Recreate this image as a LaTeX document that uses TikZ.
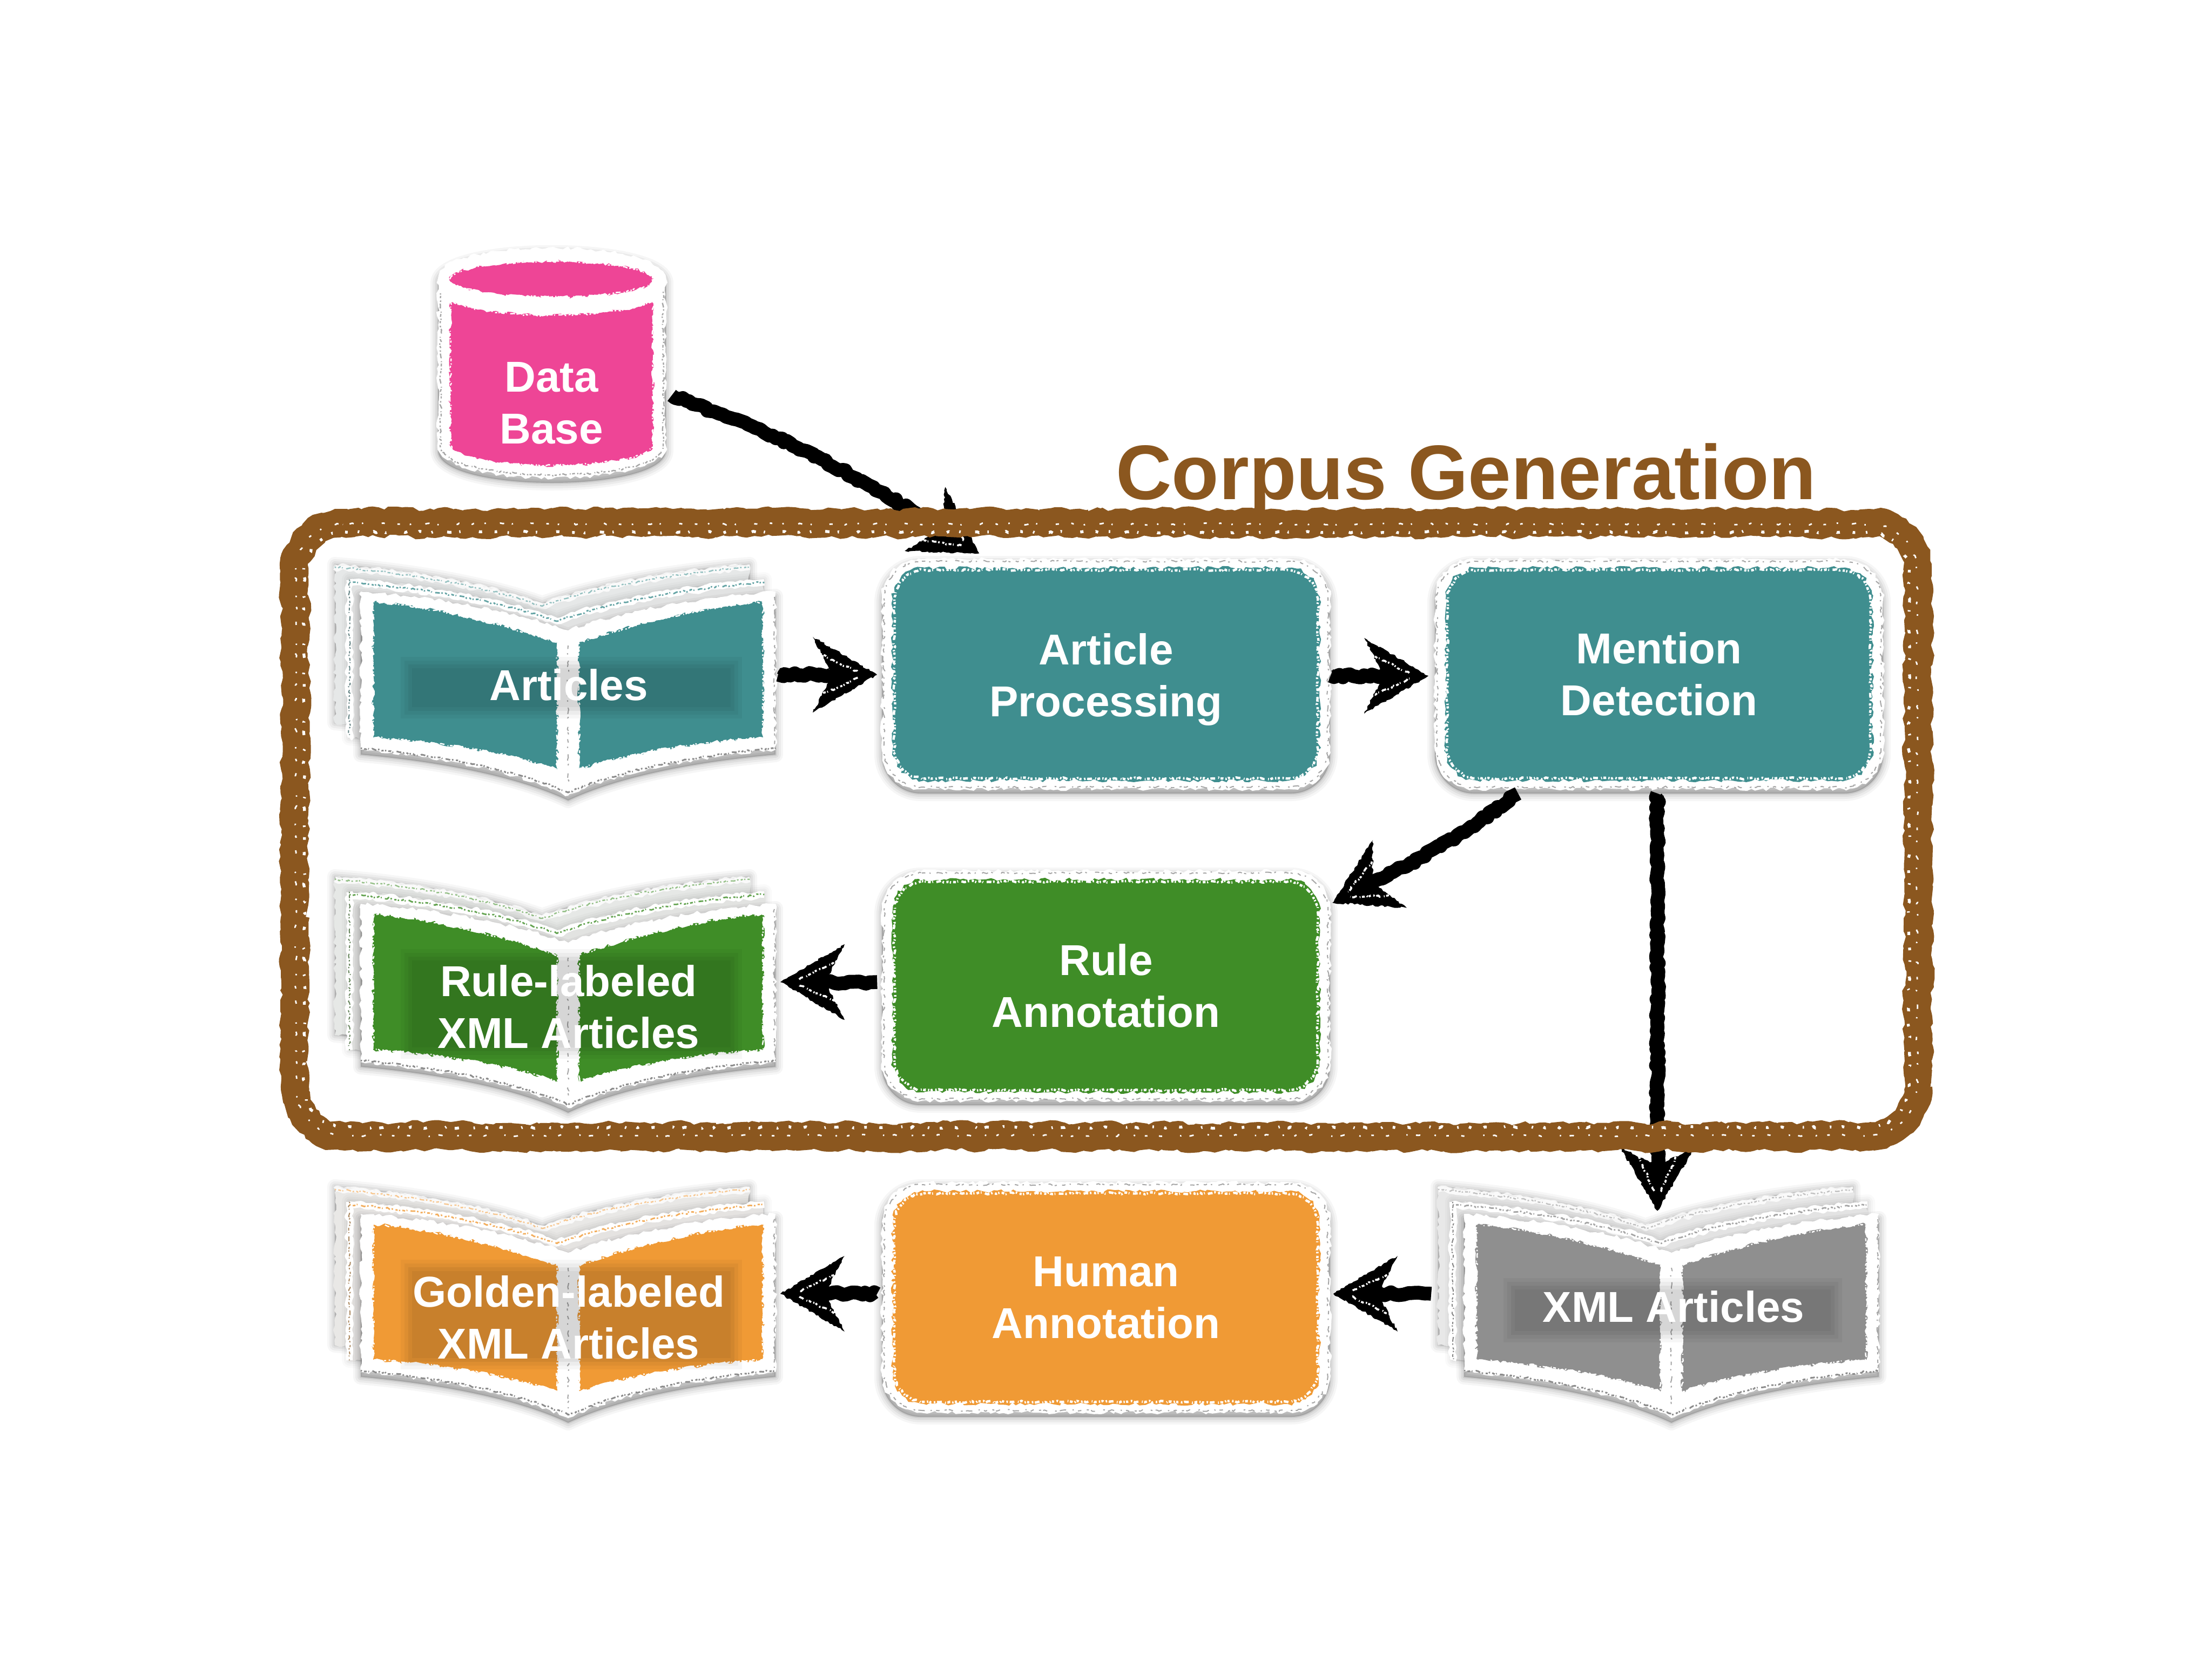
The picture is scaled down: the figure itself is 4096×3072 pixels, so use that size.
\documentclass[tikz,border=0pt]{standalone}
\usepackage{fontspec}
\setmainfont{Liberation Sans}
\usetikzlibrary{decorations.pathmorphing,decorations.markings}
\definecolor{cteal}{HTML}{3F8E8F}
\definecolor{cgreen}{HTML}{3F8D27}
\definecolor{corange}{HTML}{F09A35}
\definecolor{cpink}{HTML}{EE4596}
\definecolor{cgrey}{HTML}{8F8F8F}
\definecolor{cbrown}{HTML}{8B571F}
\tikzset{
  chalk/.style={line join=round,decorate,decoration={random steps,segment length=1.8pt,amplitude=.8pt}},
  chalkrough/.style={line join=bevel,decorate,decoration={random steps,segment length=2.4pt,amplitude=1.2pt}},
  chalkfine/.style={line join=round,decorate,decoration={random steps,segment length=1.1pt,amplitude=.45pt}},
  fleck/.style={line width=.9pt,chalkfine,dash pattern=on 1.6pt off 2pt on .6pt off 3pt on 3pt off 1.5pt on .8pt off 4pt on 2pt off 1pt on 1pt off 2.5pt},
  speck/.style={line width=.9pt,chalkfine,dash pattern=on .6pt off 1pt on 1.3pt off .7pt on .4pt off 1.6pt on 2.2pt off .8pt on .7pt off 1.2pt on 1pt off .6pt},
  sparse/.style={chalkfine,dash pattern=on 1.2pt off 5pt on .7pt off 7pt on 2pt off 4pt on .6pt off 9pt on 1.5pt off 6pt},
  label/.style={text=white,align=center,inner sep=0pt,font=\fontsize{20}{24}\selectfont\bfseries},
  boxnode/.style={label,minimum width=194.5pt,minimum height=96pt},
  booknode/.style={label,minimum width=191pt,minimum height=95pt},
  conn/.style={
    preaction={draw=black,line width=6.4pt,line cap=butt,chalk},
    postaction={decorate,decoration={markings,mark=at position .999 with {
      \fill[black,chalkfine] (85,0) -- (-34,70) -- (-5,14) -- (-5,-14) -- (-34,-70) -- cycle;
      \draw[white,line width=.35pt,speck] (-20,38) -- (50,5);
      \draw[white,line width=.35pt,speck] (-20,-38) -- (50,-5);
    }}}},
}
% rounded rectangle as a plain path, so that the decoration leaves the corners alone
\newcommand\rr[5]{(#1+#5,#2) -- (#3-#5,#2) .. controls (#3-.45*#5,#2) and (#3,#2+.45*#5) .. (#3,#2+#5) -- (#3,#4-#5) .. controls (#3,#4-.45*#5) and (#3-.45*#5,#4) .. (#3-#5,#4) -- (#1+#5,#4) .. controls (#1+.45*#5,#4) and (#1,#4-.45*#5) .. (#1,#4-#5) -- (#1,#2+#5) .. controls (#1,#2+.45*#5) and (#1+.45*#5,#2) .. (#1+#5,#2) -- cycle}
\newcommand\softsh[3]{% offset, extra options, path
  \foreach \w/\op in {7/.04,5/.05,3/.06,1.2/.08}{
    \path[shift={(0,#1)},draw=black,line join=round,opacity=\op,line width=\w pt,#2] #3;
  }}
\def\booksil{(668,1100) .. controls (800,1110) and (950,1135) .. (1052,1172) .. controls (1154,1135) and (1304,1110) .. (1436,1100) -- (1436,1393) .. controls (1304,1405) and (1154,1430) .. (1052,1478) .. controls (950,1430) and (800,1405) .. (668,1393) -- cycle}
\def\booktop{(668,1105) .. controls (800,1115) and (950,1140) .. (1052,1177) .. controls (1154,1140) and (1304,1115) .. (1436,1105)}
\def\bookbot{(668,1390) .. controls (800,1402) and (950,1427) .. (1052,1472) .. controls (1154,1427) and (1304,1402) .. (1436,1390)}
\def\pageL{(691,1119) .. controls (800,1128) and (930,1160) .. (1032,1195) -- (1032,1429) .. controls (930,1395) and (800,1378) .. (691,1370) -- cycle}
\def\pageR{(1413,1119) .. controls (1304,1128) and (1174,1160) .. (1072,1195) -- (1072,1429) .. controls (1174,1395) and (1304,1378) .. (1413,1370) -- cycle}
\newcommand\chalkbook[3]{% dx, dy, colour
  \begin{scope}[shift={(#1,#2)}]
    \begin{scope}[shift={(-48,-50)}]
      \softsh{0}{opacity=\op*.8,fill=black}{\booksil}
      \fill[#3!14!black!10!white,chalk] \booksil;
      \draw[white,line width=2.6pt,chalk,opacity=.8] \booktop;
      \draw[#3!55!white,speck,line width=.6pt] \booktop;
    \end{scope}
    \begin{scope}[shift={(-21,-22)}]
      \softsh{0}{opacity=\op*.5,fill=black}{\booksil}
      \fill[#3!16!black!12!white,chalk] \booksil;
      \draw[white,line width=3pt,chalk] \booktop;
      \draw[white,line width=3pt,chalk] (668,1100) -- (668,1393);
      \draw[#3!80!white,speck,line width=.7pt] \booktop;
      \draw[#3!40!gray,speck,line width=.5pt] (668,1100) -- (668,1393);
    \end{scope}
    \softsh{9}{opacity=\op*.9,fill=black}{\booksil}
    \fill[white,chalk] \booksil;
    \draw[black!45,speck,line width=.75pt] \bookbot;
    \draw[black!35,fleck,line width=.5pt] (1434,1110) -- (1434,1385);
    \draw[black!35,fleck,line width=.5pt] (1052,1200) -- (1052,1460);
    \fill[#3,chalk] \pageL;
    \fill[#3,chalk] \pageR;
    \draw[white,speck,line width=.6pt] \pageL;
    \draw[white,speck,line width=.6pt] \pageR;
  \end{scope}}
\newcommand\chalkbox[3]{% cx, cy, colour
  \begin{scope}[shift={(#1,#2)}]
    \softsh{8}{opacity=\op*.9,fill=black}{\rr{-415}{-213}{415}{213}{72}}
    \fill[white,chalk] \rr{-415}{-213}{415}{213}{72};
    \draw[black!35,fleck,line width=.5pt] \rr{-411}{-209}{411}{209}{70};
    \fill[#3,chalk] \rr{-395}{-197}{395}{197}{58};
    \draw[white,speck,line width=1.1pt] \rr{-392}{-193}{392}{193}{56};
  \end{scope}}
\newcommand\darkband[4]{% x1,y1,x2,y2
  \fill[black,opacity=.035] (#1-14,#2-14) rectangle (#3+14,#4+14);
  \fill[black,opacity=.04] (#1-7,#2-7) rectangle (#3+7,#4+7);
  \fill[black,opacity=.05] (#1,#2) rectangle (#3,#4);
  \fill[black,opacity=.04] (#1+7,#2+7) rectangle (#3-7,#4-7);}
\begin{document}
\begin{tikzpicture}[x=.25pt,y=-.25pt]
\pgfmathsetseed{42}
\useasboundingbox (0,0) rectangle (4096,3072);
\fill[white] (0,0) rectangle (4096,3072);

% database cylinder
\softsh{9}{opacity=\op*.9,fill=black}{(811,515) .. controls (811,440) and (1233,440) .. (1233,515) -- (1233,825) .. controls (1233,905) and (811,905) .. (811,825) -- cycle}
\fill[white,chalk] (811,515) .. controls (811,440) and (1233,440) .. (1233,515) -- (1233,825) .. controls (1233,905) and (811,905) .. (811,825) -- cycle;
\draw[black!35,speck,line width=.6pt] (1228,540) -- (1228,825) .. controls (1228,897) and (816,897) .. (816,825) -- (816,540);
\fill[cpink,chalk] (834,559) .. controls (930,592) and (1113,592) .. (1209,559) -- (1209,821) .. controls (1209,875) and (834,875) .. (834,821) -- cycle;
\draw[white,speck,line width=.6pt] (834,559) .. controls (930,592) and (1113,592) .. (1209,559) -- (1209,821) .. controls (1209,875) and (834,875) .. (834,821) -- cycle;
\fill[cpink,chalk] (1021,517) ellipse [x radius=187,y radius=33];
\draw[white,speck,line width=.6pt] (1021,517) ellipse [x radius=187,y radius=33];

% books and boxes
\chalkbook{0}{-5}{cteal}
\chalkbook{0}{573}{cgreen}
\chalkbook{0}{1147}{corange}
\chalkbook{2043}{1147}{cgrey}
\chalkbox{2048}{1248}{cteal}
\chalkbox{3072}{1248}{cteal}
\chalkbox{2048}{1825}{cgreen}
\chalkbox{2048}{2402}{corange}
\darkband{756}{1230}{1360}{1316}
\darkband{756}{1771}{1360}{1946}
\darkband{756}{2346}{1360}{2521}
\darkband{2798}{2380}{3397}{2471}

% text nodes
\node[label,minimum width=105.5pt,minimum height=70pt] (db) at (1021,746) {Data\\Base};
\node[booknode] (art) at (1053,1268) {Articles};
\node[boxnode] (ap) at (2048,1258) {Article\\Processing};
\node[boxnode] (md) at (3072,1248) {Mention\\Detection};
\node[booknode] (rl) at (1053,1864) {Rule-labeled\\XML Articles};
\node[boxnode] (ra) at (2048,1825) {Rule\\Annotation};
\node[booknode] (gl) at (1053,2439) {Golden-labeled\\XML Articles};
\node[boxnode] (ha) at (2048,2402) {Human\\Annotation};
\node[booknode] (xml) at (3099,2419) {XML Articles};

% connectors
\path[conn] ([shift={(11,-14)}]db.east) to[bend left=6] ([shift={(-306,-86)}]ap.north);
\path[conn] ([shift={(5,-19)}]art.east) -- ([shift={(-119,-9)}]ap.west);
\path[conn] ([shift={(26,-7)}]ap.east) -- ([shift={(-122,3)}]md.west);
\path[conn] ([shift={(-261,28)}]md.south) to[bend left=5] ([shift={(105,1)}]ra.north east);
\path[conn] ([shift={(-3,28)}]md.south) -- ([shift={(-30,-71)}]xml.north);
\path[conn] ([shift={(-34,-7)}]ra.west) -- ([shift={(94,-46)}]rl.east);
\path[conn] ([shift={(-34,-7)}]ha.west) -- ([shift={(94,-44)}]gl.east);
\path[conn] ([shift={(-66,-24)}]xml.west) -- ([shift={(116,-7)}]ha.east);

% frame
\softsh{10}{opacity=\op*.8}{\rr{546}{968}{3552}{2104}{90}}
\draw[cbrown,line width=13pt,chalkrough] \rr{546}{968}{3552}{2104}{90};
\draw[white,sparse,line width=1.3pt] \rr{563}{985}{3535}{2087}{76};
\draw[white,sparse,line width=.7pt,dash phase=11pt] \rr{548}{970}{3550}{2102}{88};

\node[inner sep=0pt,text=cbrown,font=\fontsize{35.8}{40}\selectfont\bfseries] (title) at (2715,887) {Corpus Generation};
\end{tikzpicture}
\end{document}
